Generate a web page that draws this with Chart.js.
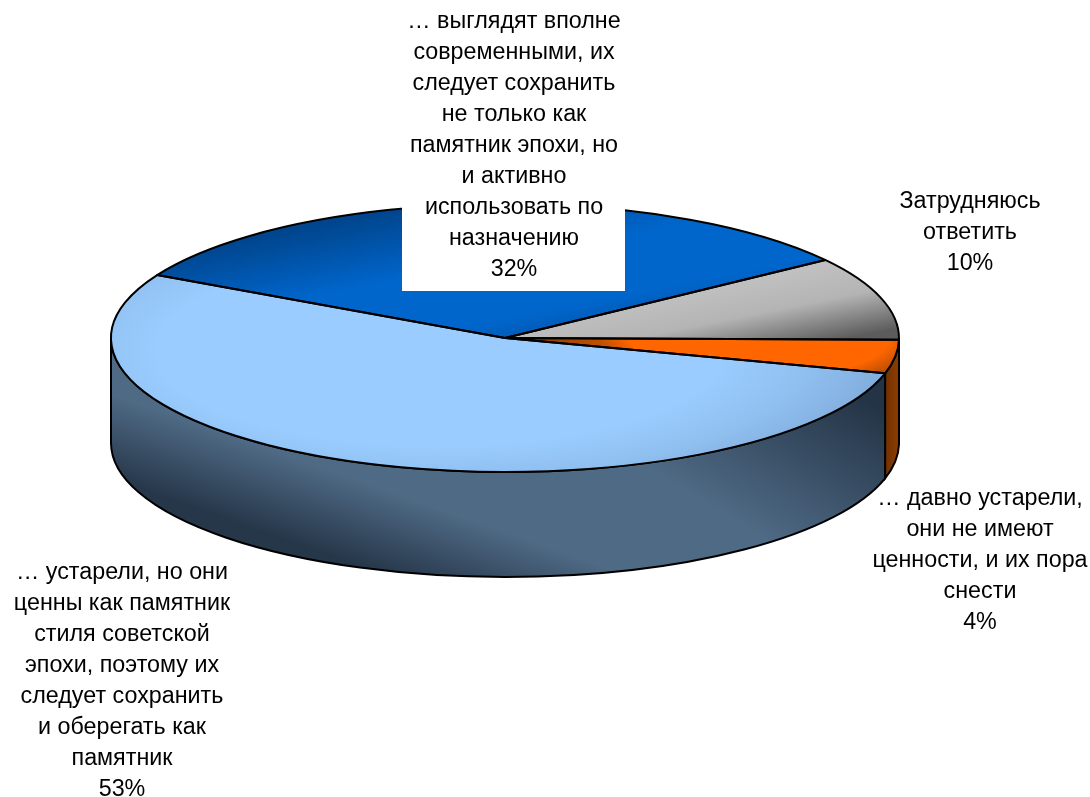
<!DOCTYPE html>
<html lang="ru">
<head>
  <meta charset="UTF-8">
  <title>Опрос: советские здания</title>
  <script src="https://cdn.jsdelivr.net/npm/chart.js"></script>
  <style>
    body { margin: 0; background: #fff; }
    canvas { display: block; }
  </style>
</head>
<body>
  <canvas id="pieChart" width="1090" height="797"></canvas>

  <script>
    // Survey answers, clockwise from the dark blue slice
    const categories = [
      ['… выглядят вполне', 'современными, их', 'следует сохранить', 'не только как', 'памятник эпохи, но', 'и активно', 'использовать по', 'назначению'],
      ['Затрудняюсь', 'ответить'],
      ['… давно устарели,', 'они не имеют', 'ценности, и их пора', 'снести'],
      ['… устарели, но они', 'ценны как памятник', 'стиля советской', 'эпохи, поэтому их', 'следует сохранить', 'и оберегать как', 'памятник']
    ];
    const values = [32, 10, 4, 53];

    // Pie placement on the page
    const pieCy = 338;
    const pieRy = 134;
    const pieR = 394;
    const wallDepth = 105;
    const squash = pieRy / pieR;
    const canvasMidY = 797 / 2;

    // Chart.js draws a circle, the squash turns it into the tilted top face.
    // Gradients get painted through that squash too, so page y is converted first.
    const sy = y => canvasMidY + (y - pieCy) / squash;

    const canvas = document.getElementById('pieChart');
    const ctx = canvas.getContext('2d');

    // Gradient given in page coordinates; the axis is adjusted so that
    // the colour bands keep their page direction after squashing
    function linear(x0, y0, x1, y1, stops) {
      const len2 = (x1 - x0) ** 2 + (y1 - y0) ** 2;
      const a = (x1 - x0) / len2;
      const b = (y1 - y0) / len2 * squash;
      const n = a * a + b * b;
      const g = ctx.createLinearGradient(x0, sy(y0), x0 + a / n, sy(y0) + b / n);
      stops.forEach(s => g.addColorStop(s[0], s[1]));
      return g;
    }

    function radial(x, y, r, stops) {
      const g = ctx.createRadialGradient(x, sy(y), 0, x, sy(y), r);
      stops.forEach(s => g.addColorStop(s[0], s[1]));
      return g;
    }

    const topFills = [
      linear(296, 195, 336, 398, [[0, '#003c7c'], [0.17, '#00468f'], [0.5, '#0066cc'], [0.78, '#0066cc'], [1, '#004f9f']]),
      linear(800, 270, 815, 345, [[0, '#c0c0c0'], [0.45, '#b4b4b4'], [1, '#5c5c5c']]),
      radial(760, 335, 260, [[0, '#ff6600'], [0.5, '#ff6600'], [0.62, '#c05000'], [1, '#763200']]),
      radial(440, 350, 470, [[0, '#9accff'], [0.6, '#9accff'], [0.8, '#8fbfef'], [1, '#7ea8d8']])
    ];

    function wallPath(c, el) {
      const a0 = Math.max(el.startAngle, 0);
      const a1 = Math.min(el.endAngle, Math.PI);
      c.beginPath();
      c.ellipse(el.x, pieCy, pieR, pieRy, 0, a0, a1);
      c.ellipse(el.x, pieCy + wallDepth, pieR, pieRy, 0, a1, a0, true);
      c.closePath();
    }

    // Side of the disc, only the slices facing the viewer have one
    const pieWalls = {
      id: 'pieWalls',
      beforeDatasetsDraw(chart) {
        const c = chart.ctx;
        chart.getDatasetMeta(0).data.forEach((arc, i) => {
          const el = arc.getProps(['x', 'startAngle', 'endAngle']);
          if (el.endAngle <= 0 || el.startAngle >= Math.PI) return;
          c.save();
          wallPath(c, el);
          c.clip();
          if (i === 2) {
            const g = c.createLinearGradient(882, 0, 899, 0);
            g.addColorStop(0, '#6a2e00');
            g.addColorStop(1, '#8e3e00');
            c.fillStyle = g;
            c.fillRect(860, 320, 60, 190);
          } else {
            c.fillStyle = '#4f6a85';
            c.fillRect(90, 320, 830, 280);
            // dark toward the lower left
            let g = c.createLinearGradient(300, 460, 273.5, 535.7);
            g.addColorStop(0, 'rgba(36,52,70,0)');
            g.addColorStop(1, 'rgba(36,52,70,0.95)');
            c.fillStyle = g;
            c.fillRect(90, 320, 830, 280);
            // dark toward the upper right
            g = c.createLinearGradient(700, 500, 788, 353);
            g.addColorStop(0, 'rgba(36,52,70,0)');
            g.addColorStop(1, 'rgba(36,52,70,1)');
            c.fillStyle = g;
            c.fillRect(90, 320, 830, 280);
          }
          c.restore();
          c.save();
          c.strokeStyle = '#000';
          c.lineWidth = 2;
          wallPath(c, el);
          c.stroke();
          c.restore();
        });

        // squash the arcs Chart.js is about to draw
        c.save();
        c.translate(0, pieCy);
        c.scale(1, squash);
        c.translate(0, -canvasMidY);
      },
      afterDatasetsDraw(chart) {
        const c = chart.ctx;
        c.restore();
        // outlines go on after the squash so the line width stays even
        chart.getDatasetMeta(0).data.forEach(arc => {
          const el = arc.getProps(['x', 'startAngle', 'endAngle']);
          c.save();
          c.strokeStyle = '#000';
          c.lineWidth = 2;
          c.lineJoin = 'round';
          c.beginPath();
          c.moveTo(el.x, pieCy);
          c.ellipse(el.x, pieCy, pieR, pieRy, 0, el.startAngle, el.endAngle);
          c.closePath();
          c.stroke();
          c.restore();
        });
      }
    };

    // Answer text with its percentage on the last line
    const labelSpots = [
      { x: 514, y: 22, box: [402, 6, 223, 285] },
      { x: 970, y: 202 },
      { x: 980, y: 499 },
      { x: 122, y: 573 }
    ];
    const lineHeight = 31;

    const pieLabels = {
      id: 'pieLabels',
      afterDraw(chart) {
        const c = chart.ctx;
        c.save();
        c.font = '23.3px "Liberation Sans", Arial, sans-serif';
        c.textAlign = 'center';
        c.textBaseline = 'middle';
        categories.forEach((lines, i) => {
          const spot = labelSpots[i];
          if (spot.box) {
            c.fillStyle = '#fff';
            c.fillRect(spot.box[0], spot.box[1], spot.box[2], spot.box[3]);
          }
          c.fillStyle = '#000';
          lines.concat(values[i] + '%').forEach((line, n) => {
            c.fillText(line, spot.x, spot.y + n * lineHeight);
          });
        });
        c.restore();
      }
    };

    new Chart(ctx, {
      type: 'pie',
      data: {
        labels: categories.map(lines => lines.join(' ')),
        datasets: [{
          data: values,
          backgroundColor: topFills,
          borderWidth: 0
        }]
      },
      options: {
        responsive: false,
        animation: false,
        rotation: -62,
        layout: { padding: { left: 111, right: 191, top: 4.5, bottom: 4.5 } },
        plugins: {
          legend: { display: false },
          tooltip: { enabled: false }
        }
      },
      plugins: [pieWalls, pieLabels]
    });
  </script>
</body>
</html>
